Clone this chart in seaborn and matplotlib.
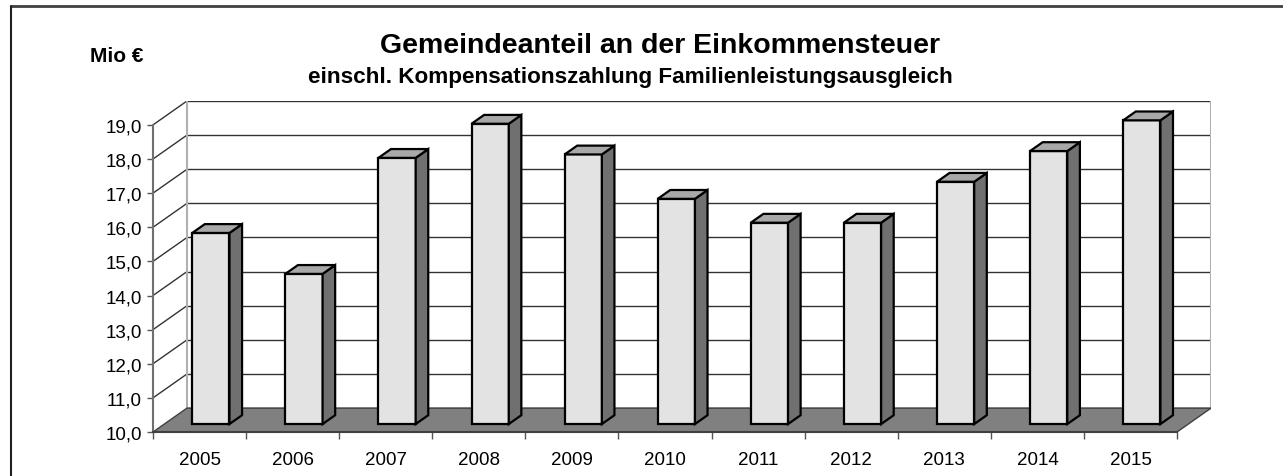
import numpy as np
import pandas as pd
import matplotlib.pyplot as plt
import seaborn as sns
from matplotlib.patches import Polygon
from matplotlib.lines import Line2D

# === Daten ===
jahre = ["2005", "2006", "2007", "2008", "2009", "2010",
         "2011", "2012", "2013", "2014", "2015"]
werte = [15.6, 14.4, 17.8, 18.8, 17.9, 16.6, 15.9, 15.9, 17.1, 18.0, 18.9]
y_ticks = np.arange(10, 20)
y_labels = [f"{v:.1f}".replace(".", ",") for v in y_ticks]

titel = "Gemeindeanteil an der Einkommensteuer"
untertitel = "einschl. Kompensationszahlung Familienleistungsausgleich"
einheit = "Mio €"

sns.set_style("white")
plt.rcParams['font.family'] = ['Liberation Sans', 'DejaVu Sans']
plt.rcParams['text.color'] = 'black'
plt.rcParams['xtick.labelcolor'] = 'black'
plt.rcParams['ytick.labelcolor'] = 'black'

W, H = 1283, 477
fig = plt.figure(figsize=(W / 100, H / 100), dpi=100)

# Tiefe des 3D-Diagramms in Datenkoordinaten
tx, ty = 0.365, 0.70
x0, x1 = -0.5, len(jahre) - 0.5
y0, y1 = 10, 19
# Tiefe der Saeulen
bdx, bdy = tx * 0.37, ty * 0.37

ax = fig.add_axes([153 / W, (H - 433) / H, (1211 - 153) / W, (433 - 102) / H])
df = pd.DataFrame({"Jahr": jahre, "Wert": werte})
sns.barplot(data=df, x="Jahr", y="Wert", color="#e3e3e3", saturation=1,
            edgecolor="black", linewidth=1.6, width=0.4, ax=ax, zorder=5)
bars = list(ax.patches)

ax.set_xlim(x0, x1 + tx)
ax.set_ylim(y0, y1 + ty)

# === Waende und Boden ===
for v in y_ticks:
    ax.plot([x0 + tx, x1 + tx], [v + ty, v + ty], color="#333333", lw=1, zorder=1)
for v in y_ticks[1:]:
    ax.plot([x0, x0 + tx], [v, v + ty], color="#333333", lw=1, zorder=1)
for xx in (x0 + tx, x1 + tx):
    ax.plot([xx, xx], [y0 + ty, y1 + ty], color="#b0b0b0", lw=1.5, zorder=1)
ax.add_patch(Polygon([(x0, y0), (x1, y0), (x1 + tx, y0 + ty), (x0 + tx, y0 + ty)],
                     closed=True, fc="#808080", ec="#404040", lw=1, zorder=2))

# === Saeulen in 3D ===
for p in bars:
    h = p.get_height() - y0
    bx = p.get_x() + tx / 3
    by = y0 + ty / 3
    w = p.get_width()
    p.set_x(bx)
    p.set_y(by)
    p.set_height(h)
    ax.add_patch(Polygon([(bx + w, by), (bx + w + bdx, by + bdy),
                          (bx + w + bdx, by + h + bdy), (bx + w, by + h)],
                         closed=True, fc="#707070", ec="black", lw=1.6, zorder=5))
    ax.add_patch(Polygon([(bx, by + h), (bx + w, by + h),
                          (bx + w + bdx, by + h + bdy), (bx + bdx, by + h + bdy)],
                         closed=True, fc="#a8a8a8", ec="black", lw=1.6, zorder=5))

# === Achsen ===
for s in ("top", "right"):
    ax.spines[s].set_visible(False)
ax.spines["left"].set_bounds(y0, y1)
ax.spines["left"].set_color("#707070")
ax.spines["left"].set_linewidth(1.5)
ax.spines["bottom"].set_bounds(x0, x1)
ax.spines["bottom"].set_color("#404040")
ax.spines["bottom"].set_linewidth(1.5)

ax.set_yticks(y_ticks, y_labels)
ax.set_xticks(range(len(jahre)), jahre)
ax.set_xticks(np.arange(x0, x1 + 0.01, 1.0), minor=True)
ax.tick_params(axis="y", length=4.5, width=1, color="#555555", labelsize=13.5,
               pad=3.5, left=True, labelcolor="black")
ax.tick_params(axis="x", which="major", length=0, labelsize=13.5, pad=13.5,
               labelcolor="black")
ax.tick_params(axis="x", which="minor", length=5, width=1, color="#555555",
               bottom=True)
ax.set_xlabel("")
ax.set_ylabel("")
ax.patch.set_alpha(0)

# === Texte ===
fig.text(660 / W, 1 - 46 / H, titel, ha="center", va="center",
         fontsize=20.5, fontweight="bold", color="black")
fig.text(630 / W, 1 - 77 / H, untertitel, ha="center", va="center",
         fontsize=16.2, fontweight="bold", color="black")
fig.text(90 / W, 1 - 57 / H, einheit, ha="left", va="center",
         fontsize=15, fontweight="bold", color="black")

# Rahmen
fig.add_artist(Line2D([11 / W, 1], [1 - 7 / H, 1 - 7 / H], color="#404040", lw=2))
fig.add_artist(Line2D([11 / W, 11 / W], [0, 1 - 7 / H], color="#202020", lw=1.5))

fig.savefig("out.png", dpi=100)
